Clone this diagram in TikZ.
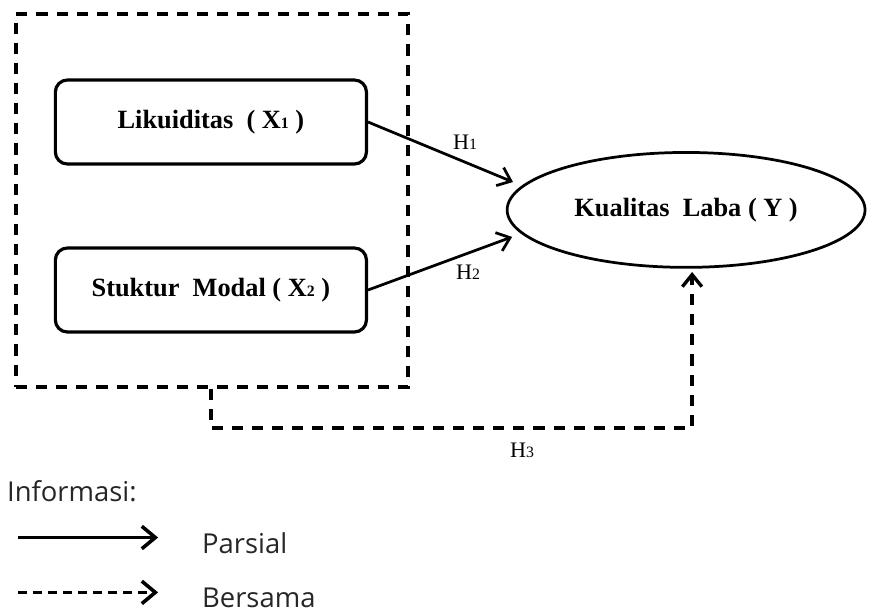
\documentclass[tikz,border=0pt]{standalone}
\usepackage{fontspec}
\setmainfont{Liberation Serif}
\newfontfamily\infofont{Open Sans}
\usetikzlibrary{arrows.meta,shapes.geometric}
\newcommand{\subnum}[1]{{\fontsize{15}{15}\selectfont #1}}
\tikzset{
  varbox/.style={draw, line width=3pt, rounded corners=0.4cm, minimum width=10.37cm, minimum height=2.8cm, font=\fontsize{25}{30}\selectfont\bfseries},
  depvar/.style={draw, ellipse, line width=2.6pt, minimum width=11.93cm, minimum height=3.83cm, font=\fontsize{25}{30}\selectfont\bfseries},
  hlabel/.style={font=\fontsize{21}{25}\selectfont},
  infotext/.style={font=\infofont\fontsize{26}{30}\selectfont, text=black!85, anchor=west, inner sep=0pt},
  hyp/.style={line width=2.6pt, -{Straight Barb[length=4mm, width=6.5mm]}},
  joint/.style={line width=3.2pt, dash pattern=on 0.37cm off 0.3cm},
  legarrow/.style={line width=3.4pt, -{Straight Barb[length=4.5mm, width=7.5mm]}}
}
\begin{document}
\begin{tikzpicture}
\useasboundingbox (0,0) rectangle (29,20.467);
\node [varbox] (lik) at (7.03,16.4) {Likuiditas\ \ ( X\subnum{1} )};
\node [varbox] (stm) at (7.03,10.8) {Stuktur\ \ Modal ( X\subnum{2} )};
\node [depvar] (kual) at (22.87,13.47) {Kualitas\ \ Laba ( Y )};
\node [draw, joint, minimum width=13.07cm, minimum height=12.43cm] (grp) at (7.07,13.78) {};
\coordinate (h1end) at (17.1,14.4);
\coordinate (h2end) at (17.07,12.57);
\coordinate (h3down) at (7.03,6.2);
\coordinate (h3right) at (23.07,6.2);
\coordinate (h3end) at (23.07,11.4);
\draw [hyp] (lik.east) -- (h1end);
\draw [hyp] (stm.east) -- (h2end);
\node [hlabel] (h1) at (15.5,15.73) {H\subnum{1}};
\node [hlabel] (h2) at (15.6,11.4) {H\subnum{2}};
\draw [joint, -{Straight Barb[length=4mm, width=6.5mm]}] (grp.south -| h3down) -- (h3down) -- (h3right) -- (h3end);
\node [hlabel] (h3) at (17.4,5.47) {H\subnum{3}};
\node [infotext] (info) at (0.23,4.1) {Informasi:};
\coordinate (solA) at (0.6,2.55);
\coordinate (solB) at (5.27,2.55);
\coordinate (dasA) at (0.6,0.72);
\coordinate (dasB) at (5.27,0.72);
\draw [legarrow] (solA) -- (solB);
\draw [legarrow, dash pattern=on 0.3cm off 0.2cm] (dasA) -- (dasB);
\node [infotext] (parsial) at (6.73,2.35) {Parsial};
\node [infotext] (bersama) at (6.73,0.55) {Bersama};
\end{tikzpicture}
\end{document}
